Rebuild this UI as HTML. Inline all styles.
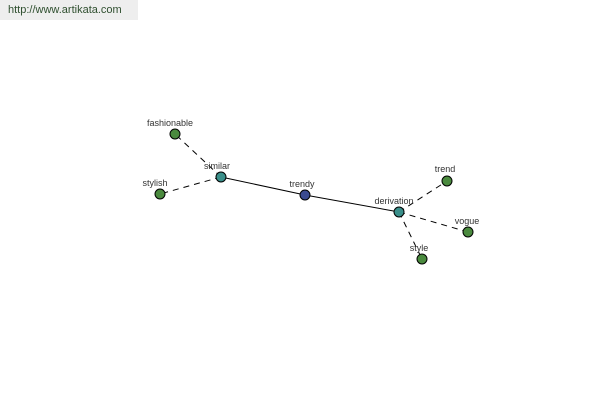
<!DOCTYPE html>
<html><head><meta charset="utf-8"><style>
body{margin:0;width:600px;height:400px;background:#fff;overflow:hidden;position:relative;font-family:"Liberation Sans",sans-serif}
.hdr{position:absolute;left:0;top:0;width:138px;height:20px;background:#eeeeee;color:#2f4f2f;font-size:11px;line-height:20px;padding-left:8px;box-sizing:border-box}
</style></head><body>
<div class="hdr">http://www.artikata.com</div>
<svg width="600" height="400" style="position:absolute;left:0;top:0">
<g stroke="#000" stroke-width="1">
<line x1="221" y1="177" x2="305" y2="195"/>
<line x1="305" y1="195" x2="399" y2="212"/>
<g stroke-dasharray="6,5">
<line x1="221" y1="177" x2="175" y2="134"/>
<line x1="221" y1="177" x2="160" y2="194"/>
<line x1="399" y1="212" x2="447" y2="181"/>
<line x1="399" y1="212" x2="468" y2="232"/>
<line x1="399" y1="212" x2="422" y2="259"/>
</g>
</g>
<g stroke="#000" stroke-width="1">
<circle cx="175" cy="134" r="5" fill="#4a8a3e"/>
<circle cx="160" cy="194" r="5" fill="#4a8a3e"/>
<circle cx="221" cy="177" r="5" fill="#3a8f8a"/>
<circle cx="305" cy="195" r="5" fill="#3a4a90"/>
<circle cx="399" cy="212" r="5" fill="#3a8f8a"/>
<circle cx="447" cy="181" r="5" fill="#4a8a3e"/>
<circle cx="468" cy="232" r="5" fill="#4a8a3e"/>
<circle cx="422" cy="259" r="5" fill="#4a8a3e"/>
</g>
<g font-family="Liberation Sans, sans-serif" font-size="9" fill="#333" text-anchor="middle">
<text x="170" y="126">fashionable</text>
<text x="217" y="169">similar</text>
<text x="155" y="186">stylish</text>
<text x="302" y="187">trendy</text>
<text x="394" y="204">derivation</text>
<text x="445" y="172">trend</text>
<text x="467" y="224">vogue</text>
<text x="419" y="251">style</text>
</g>
</svg>
</body></html>
